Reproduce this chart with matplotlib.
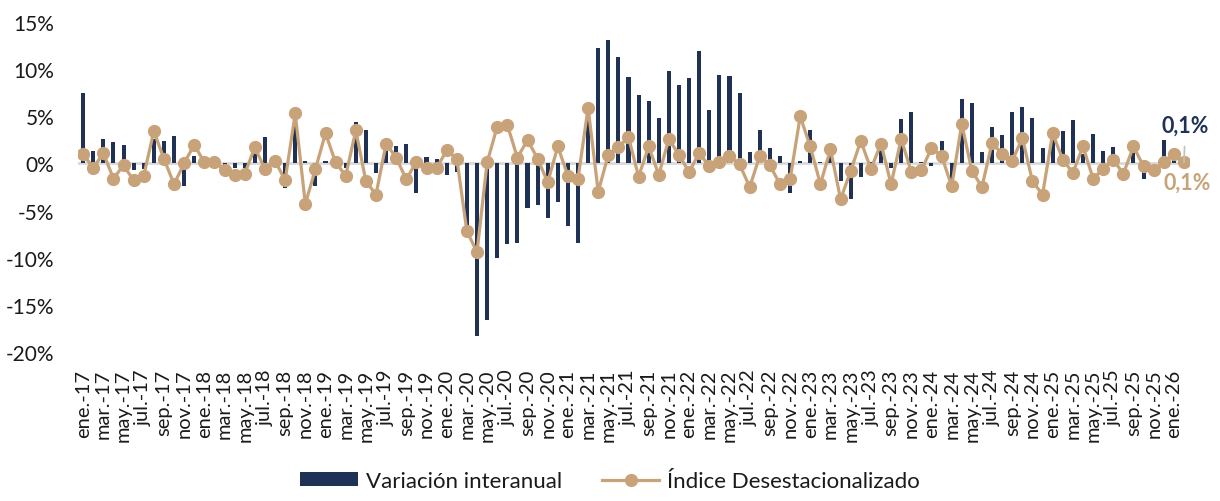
import matplotlib
matplotlib.use("Agg")
import matplotlib.pyplot as plt
import numpy as np

plt.rcParams['font.family'] = ['Lato', 'DejaVu Sans']

# meses ene-17 .. feb-26
month_names = ["ene", "feb", "mar", "abr", "may", "jun",
               "jul", "ago", "sep", "oct", "nov", "dic"]
years = ["17", "18", "19", "20", "21", "22", "23", "24", "25", "26"]
categories = [f"{m}.-{y}" for y in years for m in month_names][:110]

# Variación interanual (%)
interanual = [
    7.5, 1.3, 2.6, 2.3, 2.0, -0.7, -0.6, 2.6, 2.4, 2.9, -2.4, 0.8,
    0.05, -0.1, -0.2, -0.5, -0.5, 1.2, 2.8, 0.05, -2.6, 4.8, 0.3, -2.4,
    0.25, -0.1, -0.5, 4.4, 3.6, -1.0, 1.4, 1.9, 2.1, -3.1, 0.7, 0.5,
    -1.2, -0.9, -6.8, -18.3, -16.6, -10.0, -8.5, -8.4, -4.7, -4.4, -5.8, -4.1,
    -6.6, -8.4, 5.5, 12.2, 13.1, 11.3, 9.2, 7.3, 6.6, 4.8, 9.8, 8.3,
    9.1, 11.9, 5.7, 9.4, 9.3, 7.5, 1.2, 3.5, 1.6, 0.8, -3.1, 0.3,
    3.6, 0.15, 1.0, -1.9, -3.8, -1.45, 0.1, 1.7, -0.5, 4.7, 5.5, 0.1,
    -0.3, 2.4, -1.6, 6.8, 6.45, 1.2, 3.9, 3.0, 5.5, 6.0, 4.8, 1.6,
    3.8, 3.4, 4.6, 1.0, 3.1, 1.3, 1.7, 0.05, 1.2, -1.6, 0.05, 2.5,
    0.4, 0.1,
]

# Índice Desestacionalizado, variación mensual (%)
desestacionalizado = [
    1.0, -0.5, 1.1, -1.6, -0.2, -1.8, -1.3, 3.4, 0.5, -2.2, 0.0, 2.0,
    0.1, 0.2, -0.7, -1.2, -1.1, 1.7, -0.6, 0.3, -1.8, 5.3, -4.3, -0.6,
    3.2, 0.1, -1.3, 3.5, -1.9, -3.3, 2.1, 0.6, -1.7, 0.2, -0.5, -0.5,
    1.4, 0.5, -7.2, -9.4, 0.1, 3.9, 4.1, 0.6, 2.5, 0.5, -2.0, 1.8,
    -1.3, -1.6, 5.9, -3.0, 0.9, 1.7, 2.8, -1.4, 1.8, -1.2, 2.6, 0.9,
    -0.9, 1.1, -0.3, 0.2, 0.8, -0.1, -2.5, 0.8, -0.2, -2.2, -1.7, 5.0,
    1.8, -2.2, 1.5, -3.8, -0.8, 2.4, -0.6, 2.1, -2.2, 2.6, -0.9, -0.7,
    1.6, 0.8, -2.4, 4.2, -0.8, -2.5, 2.2, 1.0, 0.3, 2.7, -1.9, -3.3,
    3.2, 0.4, -1.0, 1.8, -1.6, -0.6, 0.4, -1.1, 1.8, -0.3, -0.7, 0.1,
    1.0, 0.1,
]

yticks = [-20, -15, -10, -5, 0, 5, 10, 15]

bar_color = "#1F3154"
line_color = "#C8A278"

x = np.arange(len(categories))

fig = plt.figure(figsize=(12.2, 5.02), dpi=100)
ax = fig.add_axes([0.064, 0.297, 0.9106, 0.657])

bars = ax.bar(x, interanual, width=0.4, color=bar_color, label="Variación interanual", zorder=2)
ax.axhline(0, color="#D9D9D9", lw=2, zorder=1)
line, = ax.plot(x, desestacionalizado, color=line_color, lw=2.3, marker="o", markersize=8.5,
                label="Índice Desestacionalizado", zorder=3)

ax.set_xlim(-0.5, len(categories) - 0.5)
ax.set_ylim(-20, 15)
ax.set_yticks(yticks)
ax.set_yticklabels([f"{v}%" for v in yticks])
ax.set_xticks(x[::2])
ax.set_xticklabels(categories[::2], rotation=90, va="top", ha="center")
ax.tick_params(axis="y", length=0, pad=17, labelsize=15, labelcolor="#1a1a1a")
ax.tick_params(axis="x", length=0, pad=12, labelsize=14.5, labelcolor="#1a1a1a")
for s in ax.spines.values():
    s.set_visible(False)

# etiquetas del último dato
last = len(categories) - 1
ax.annotate(f"{interanual[last]:.1f}%".replace(".", ","), xy=(last, interanual[last]),
            xytext=(1, 27), textcoords="offset points", ha="center", va="center",
            fontsize=15.5, fontweight="bold", color=bar_color,
            arrowprops=dict(arrowstyle="-", color="#BFBFBF", lw=1.2, shrinkA=6, shrinkB=0),
            zorder=4)
ax.annotate(f"{desestacionalizado[last]:.1f}%".replace(".", ","), xy=(last, desestacionalizado[last]),
            xytext=(2, -14), textcoords="offset points", ha="center", va="center",
            fontsize=15.5, fontweight="bold", color=line_color, zorder=4)

fig.legend(handles=[bars, line], loc="lower center", bbox_to_anchor=(0.5, -0.02), ncol=2,
           frameon=False, fontsize=16, handlelength=2.6, handleheight=0.55, columnspacing=1.8,
           handletextpad=0.35, labelcolor="#1a1a1a")

fig.savefig("out.png", dpi=100)
